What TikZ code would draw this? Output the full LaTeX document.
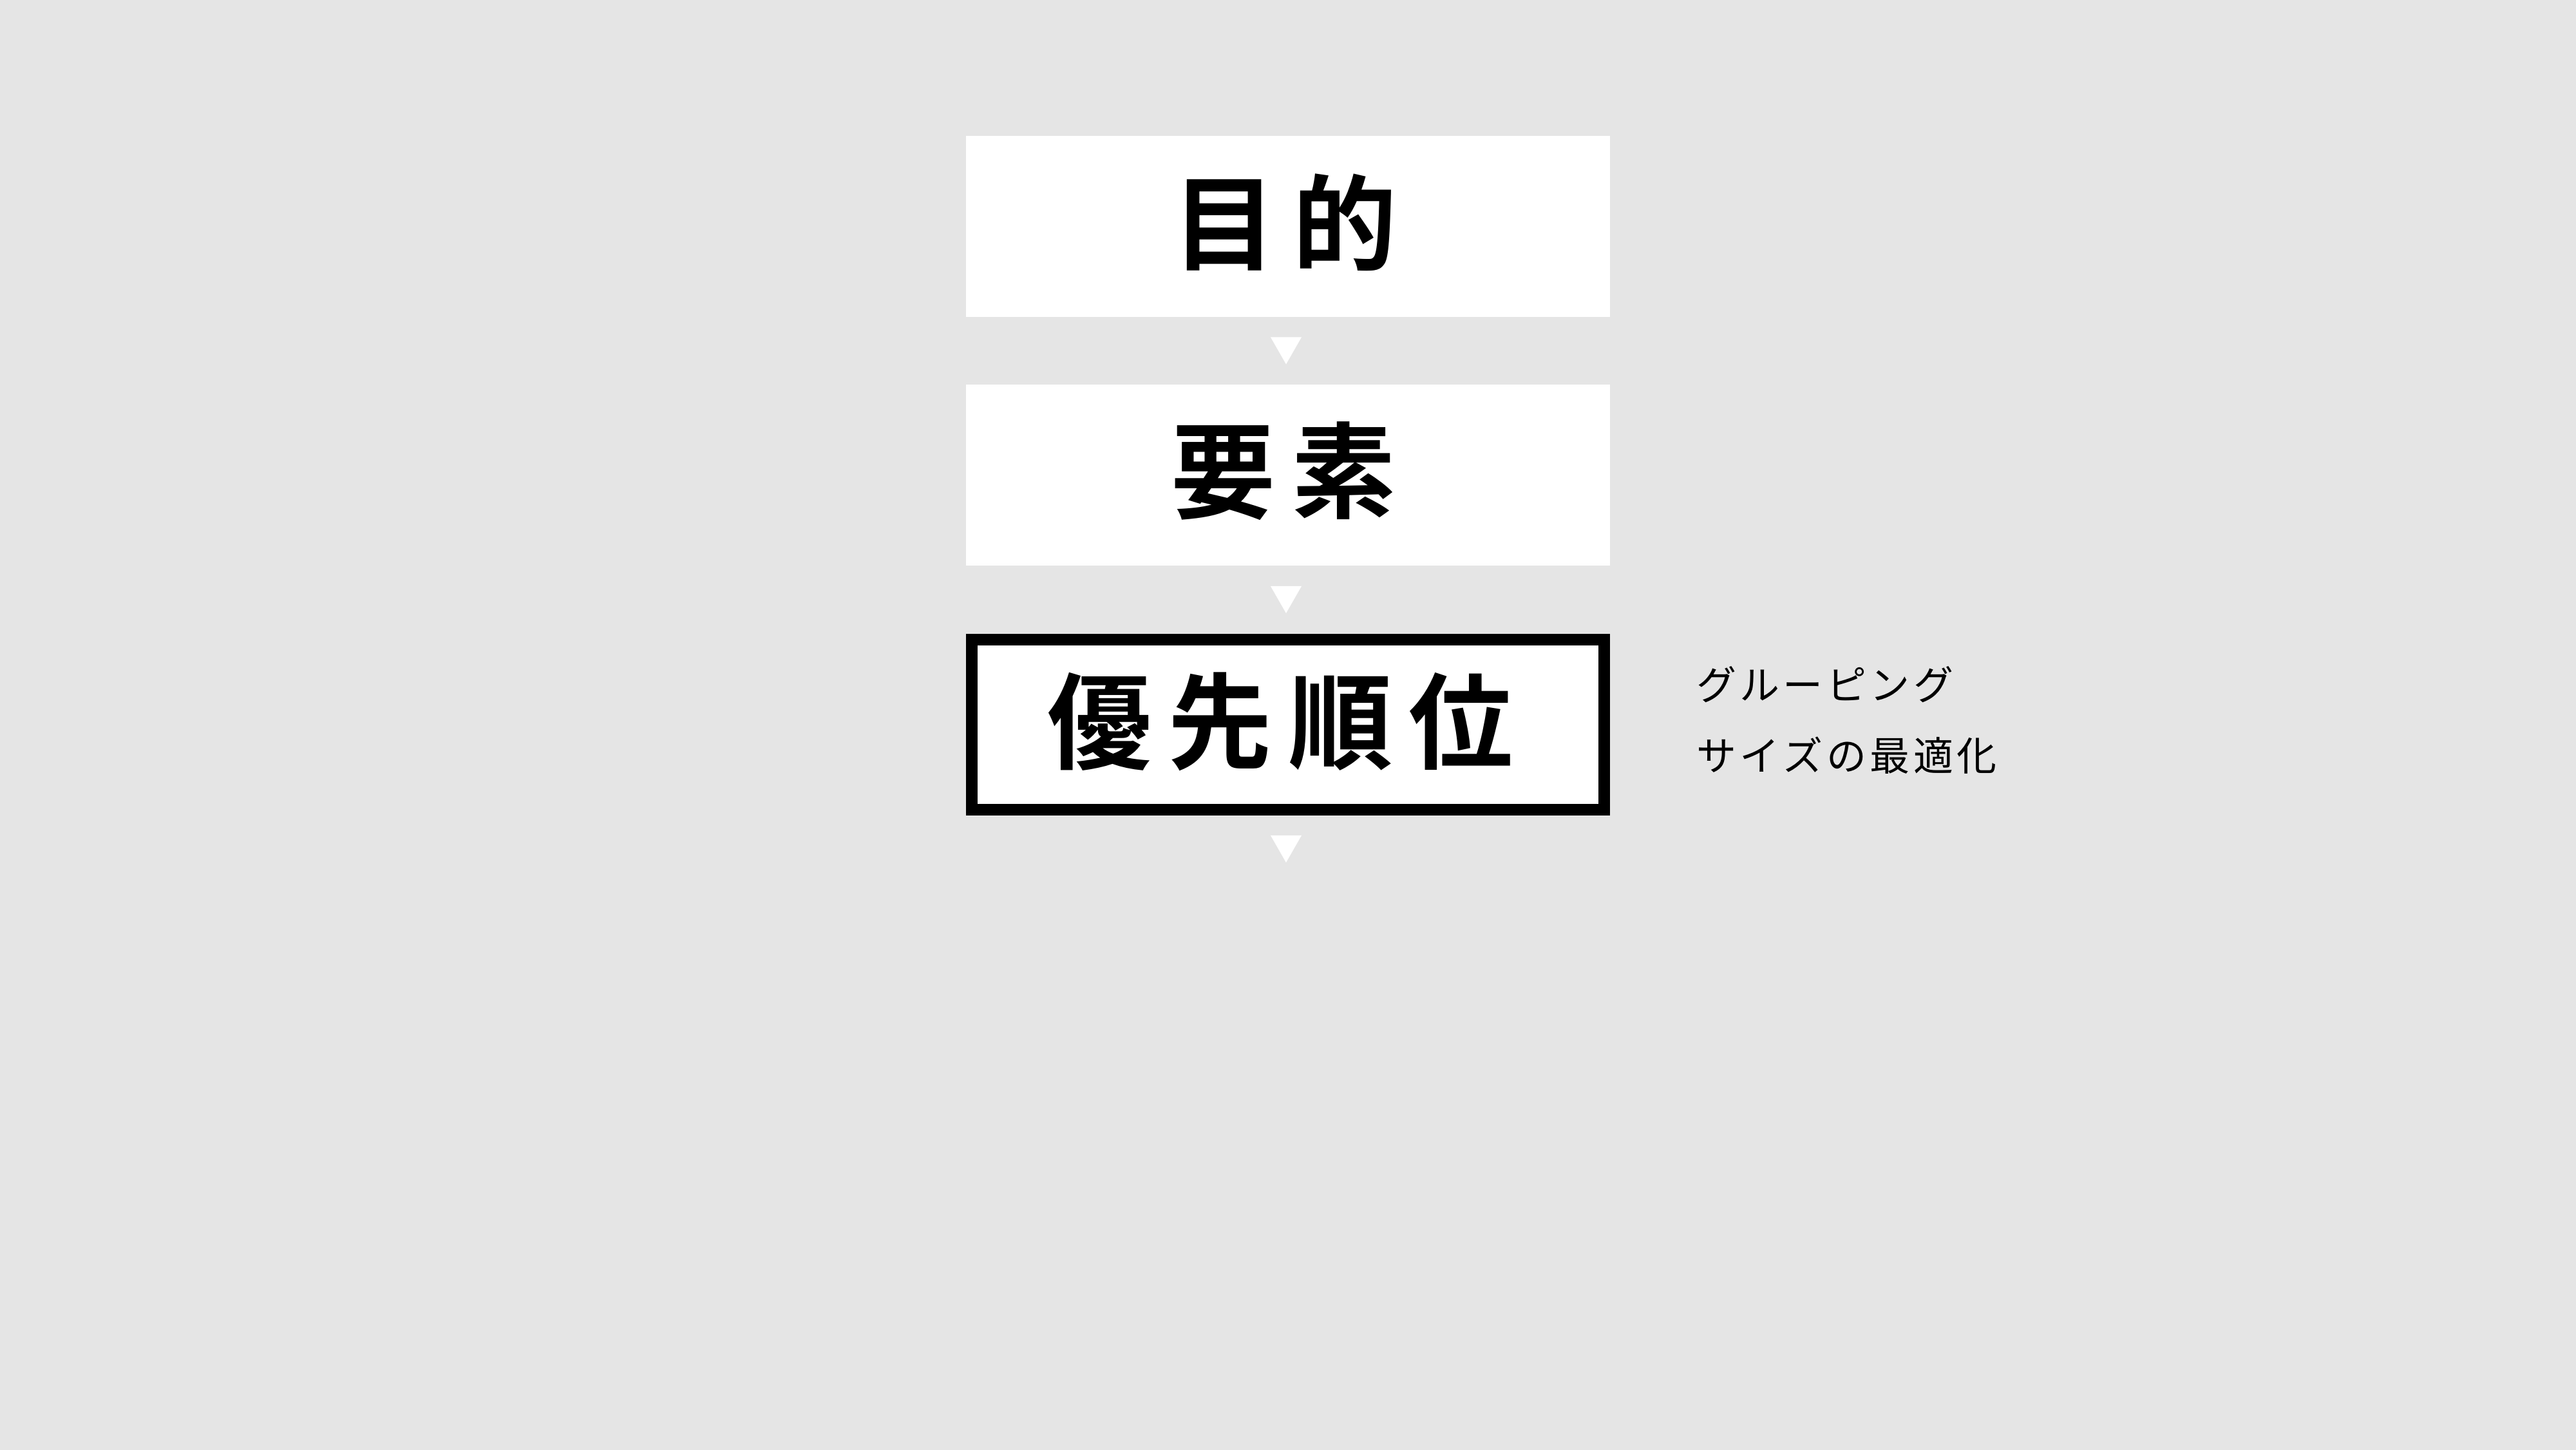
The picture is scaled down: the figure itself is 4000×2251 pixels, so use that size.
\documentclass[tikz,border=0pt]{standalone}
\usepackage{fontspec}
\newfontfamily\cjk{Noto Sans CJK JP}
\newfontfamily\cjkbold{Noto Sans CJK JP Bold}
\usetikzlibrary{calc}
\definecolor{bg}{HTML}{E5E5E5}
\newcommand{\bgap}{\hspace{2.5pt}}
\newcommand{\sgap}{\hspace{0.55pt}}
\begin{document}
\begin{tikzpicture}[x=0.1pt,y=-0.1pt,
  whitebox/.style={fill=white,draw=none,minimum width=100pt,minimum height=28.1pt,inner sep=0pt,outer sep=0pt},
  keybox/.style={fill=white,draw=black,line width=1.8pt,minimum width=98.2pt,minimum height=26.4pt,inner sep=0pt},
  bigtext/.style={font=\cjkbold\fontsize{16.2pt}{18pt}\selectfont,text=black,inner sep=0pt},
  smalltext/.style={font=\cjk\fontsize{6.2pt}{7pt}\selectfont,text=black,inner sep=0pt,anchor=west},
  tri/.style={fill=white,draw=none}]
\fill[bg] (0,0) rectangle (4000,2251);
\useasboundingbox (0,0) rectangle (4000,2251);
\node[whitebox] (b1) at (2000,351.5) {};
\node[whitebox] (b2) at (2000,737.5) {};
\node[keybox] (b3) at (2000,1125) {};
\node[bigtext] (t1) at ($(b1.center)+(-5,-6)$) {目\bgap 的};
\node[bigtext] (t2) at ($(b2.center)+(-7,-6)$) {要\bgap 素};
\node[bigtext] (t3) at ($(b3.center)+(-12,-5)$) {優\bgap 先\bgap 順\bgap 位};
\coordinate (c4) at (1997,1370);
\coordinate (b1s) at ($(b1.south)+(-3,0)$);
\coordinate (b2n) at ($(b2.north)+(-3,0)$);
\coordinate (b2s) at ($(b2.south)+(-3,0)$);
\coordinate (b3n) at ($(b3.north)+(-3,0)$);
\coordinate (b3s) at ($(b3.south)+(-3,0)$);
\path (b1s) -- (b2n) coordinate[midway] (m1);
\path (b2s) -- (b3n) coordinate[midway] (m2);
\path (b3s) -- (c4) coordinate[midway] (m3);
\foreach \m in {m1,m2,m3}{
  \fill[tri] ($(\m)+(-24,-21)$) -- ($(\m)+(24,-21)$) -- ($(\m)+(0,21)$) -- cycle;
}
\node[smalltext] (s1) at (2632,1063) {グ\sgap ル\sgap ー\sgap ピ\sgap ン\sgap グ};
\node[smalltext] (s2) at (2632,1173) {サ\sgap イ\sgap ズ\sgap の\sgap 最\sgap 適\sgap 化};
\end{tikzpicture}
\end{document}
